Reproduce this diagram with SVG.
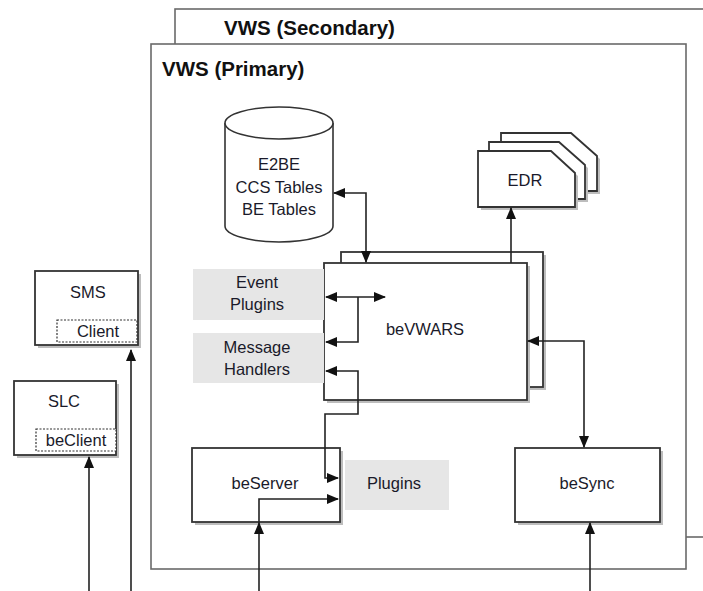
<svg xmlns="http://www.w3.org/2000/svg" width="703" height="591" viewBox="0 0 703 591">
<defs>
<marker id="ah" markerWidth="12" markerHeight="10" refX="11" refY="5" orient="auto" markerUnits="userSpaceOnUse">
<path d="M0,0 L12,5 L0,10 Z" fill="#111"/>
</marker>
<marker id="ahs" markerWidth="12" markerHeight="10" refX="1" refY="5" orient="auto" markerUnits="userSpaceOnUse">
<path d="M12,0 L0,5 L12,10 Z" fill="#111"/>
</marker>
</defs>
<style>
text{font-family:"Liberation Sans",Arial,sans-serif;fill:#1a1a2a;font-size:16.5px;text-anchor:middle}
.title{font-weight:bold;font-size:20.5px;text-anchor:start;fill:#111}
.frame{fill:#fff;stroke:#6a6a6a;stroke-width:1.6}
.box{fill:#fff;stroke:#333;stroke-width:1.8}
.shadow{fill:#bdbdbd;stroke:none}
.gray{fill:#e6e6e6;stroke:none}
.dash{fill:#fff;stroke:#333;stroke-width:1.2;stroke-dasharray:2,1.5}
.conn{fill:none;stroke:#222;stroke-width:1.6}
</style>
<rect width="703" height="591" fill="#fff"/>
<g id="secondary">
<rect class="frame" x="175" y="9" width="560" height="528"/>
<text class="title" x="224" y="35">VWS (Secondary)</text>
</g>
<g id="primary">
<rect class="frame" x="151" y="44" width="535" height="525"/>
<text class="title" x="162" y="76">VWS (Primary)</text>
</g>
<g id="db">
<path d="M225,123 V226 A54,16 0 0 0 333,226 V123" fill="#fff" stroke="#333" stroke-width="1.6"/>
<ellipse cx="279" cy="123" rx="54" ry="16" fill="#fff" stroke="#333" stroke-width="1.6"/>
<text x="279" y="170">E2BE</text>
<text x="279" y="193">CCS Tables</text>
<text x="279" y="215">BE Tables</text>
</g>
<g id="edr">
<path class="shadow" d="M504,136 H574 L600,159 V194 H504 Z"/>
<path class="box" d="M501,133 H571 L597,156 V191 H501 Z"/>
<path class="shadow" d="M492,145 H562 L588,168 V202 H492 Z"/>
<path class="box" d="M489,142 H559 L585,165 V199 H489 Z"/>
<path class="shadow" d="M481,154 H554 L578,176 V210 H481 Z"/>
<path class="box" d="M478,151 H551 L575,173 V207 H478 Z"/>
<text x="525" y="186">EDR</text>
</g>
<g id="bevwars">
<rect class="shadow" x="344" y="255" width="202" height="135"/>
<rect class="box" x="341" y="252" width="202" height="135"/>
<rect class="shadow" x="327" y="266" width="203" height="137"/>
<rect class="box" x="324" y="263" width="203" height="137"/>
<text x="425" y="335">beVWARS</text>
</g>
<g id="event-plugins">
<rect class="gray" x="193" y="269" width="131" height="51"/>
<text x="257" y="288">Event</text>
<text x="257" y="310">Plugins</text>
</g>
<g id="message-handlers">
<rect class="gray" x="193" y="333" width="131" height="50"/>
<text x="257" y="353">Message</text>
<text x="257" y="375">Handlers</text>
</g>
<g id="beserver">
<rect class="shadow" x="195" y="451" width="148" height="74"/>
<rect class="box" x="192" y="448" width="148" height="74"/>
<text x="265" y="489">beServer</text>
</g>
<g id="plugins">
<rect class="gray" x="345" y="460" width="104" height="50"/>
<text x="394" y="489">Plugins</text>
</g>
<g id="besync">
<rect class="shadow" x="518" y="451" width="145" height="74"/>
<rect class="box" x="515" y="448" width="145" height="74"/>
<text x="587" y="489">beSync</text>
</g>
<g id="sms">
<rect class="shadow" x="38" y="274" width="103" height="74"/>
<rect class="box" x="35" y="271" width="103" height="74"/>
<text x="88" y="298">SMS</text>
<rect class="dash" x="57" y="320" width="80" height="22"/>
<text x="98" y="337">Client</text>
</g>
<g id="slc">
<rect class="shadow" x="17" y="384" width="102" height="74"/>
<rect class="box" x="14" y="381" width="102" height="74"/>
<text x="64" y="407">SLC</text>
<rect class="dash" x="36" y="429" width="80" height="22"/>
<text x="76" y="446">beClient</text>
</g>
<g id="connectors">
<path class="conn" d="M366,262 V193 H334" marker-start="url(#ahs)" marker-end="url(#ah)"/>
<path class="conn" d="M511,263 V208" marker-end="url(#ah)"/>
<path class="conn" d="M326,297 H385" marker-start="url(#ahs)" marker-end="url(#ah)"/>
<path class="conn" d="M358,297 V342 H326" marker-end="url(#ah)"/>
<path class="conn" d="M338,478 H325 V414 H358 V371 H326" marker-start="url(#ahs)" marker-end="url(#ah)"/>
<path class="conn" d="M259,591 V523" marker-end="url(#ah)"/>
<path class="conn" d="M259,523 V499 H338" marker-end="url(#ah)"/>
<path class="conn" d="M528,341 H584 V447" marker-start="url(#ahs)" marker-end="url(#ah)"/>
<path class="conn" d="M590,591 V523" marker-end="url(#ah)"/>
<path class="conn" d="M131,591 V350" marker-end="url(#ah)"/>
<path class="conn" d="M89,591 V457" marker-end="url(#ah)"/>
</g>
</svg>
